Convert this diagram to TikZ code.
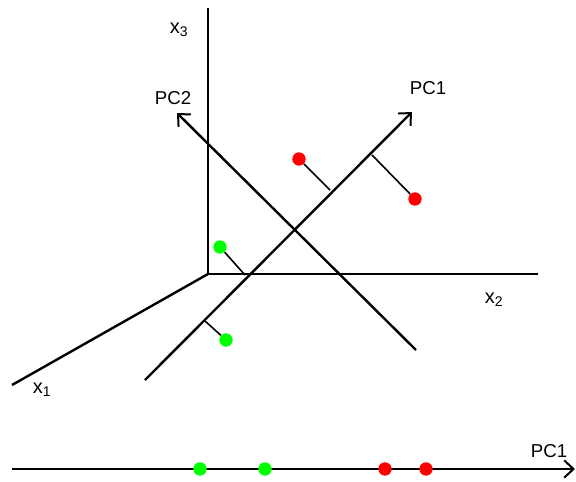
\documentclass[tikz,border=0pt]{standalone}
\usepackage{fontspec}
\setmainfont{Liberation Sans}
\usetikzlibrary{arrows.meta}
\begin{document}
\begin{tikzpicture}[x=0.75pt,y=-0.75pt,
  axis/.style={line width=1.8pt},
  proj/.style={line width=1.2pt},
  pcarrow/.style={line width=1.8pt,-{Straight Barb[length=7pt,width=13pt,line width=1.5pt]}},
  lbl/.style={font=\fontsize{14}{16}\selectfont,inner sep=0pt},
  xlbl/.style={font=\fontsize{15}{17}\selectfont,inner sep=0pt},
  redpt/.style={circle,fill=red,inner sep=0pt,minimum size=10pt},
  greenpt/.style={circle,fill=green,inner sep=0pt,minimum size=10pt}]
\useasboundingbox (0,0) rectangle (576,482);
% axes
\coordinate (O) at (208,274);
\coordinate (x3end) at (208,8);
\coordinate (x2end) at (538,274);
\coordinate (x1end) at (12,385);
\draw[axis] (O) -- (x3end);
\draw[axis] (O) -- (x2end);
\draw[axis] (O) -- (x1end);
\node[xlbl] (lx3) at (179,30) {x\textsubscript{3}};
\node[xlbl] (lx2) at (494,300) {x\textsubscript{2}};
\node[xlbl] (lx1) at (42,390) {x\textsubscript{1}};
% principal components
\coordinate (pc1s) at (145,380);
\coordinate (pc1e) at (412,112);
\coordinate (pc2s) at (416,350);
\coordinate (pc2e) at (177,113);
\draw[pcarrow] (pc1s) -- (pc1e);
\draw[pcarrow] (pc2s) -- (pc2e);
\node[lbl] (lpc1) at (428,88) {PC1};
\node[lbl] (lpc2) at (173,98) {PC2};
% projections
\coordinate (p1) at (330,190);
\coordinate (p2) at (372,155);
\coordinate (p3) at (245,275);
\coordinate (p4) at (205,321);
\node[redpt] (r1) at (299,159) {};
\node[redpt] (r2) at (415,199) {};
\node[greenpt] (g1) at (220,247) {};
\node[greenpt] (g2) at (226,340) {};
\draw[proj] (r1) -- (p1);
\draw[proj] (r2) -- (p2);
\draw[proj] (g1) -- (p3);
\draw[proj] (g2) -- (p4);
% bottom axis
\coordinate (bs) at (12,469);
\coordinate (be) at (575,469);
\draw[pcarrow] (bs) -- (be);
\node[lbl] (lpcb) at (549,451) {PC1};
\node[greenpt] (bg1) at (200,469) {};
\node[greenpt] (bg2) at (265,469) {};
\node[redpt] (br1) at (385,469) {};
\node[redpt] (br2) at (426,469) {};
\end{tikzpicture}
\end{document}
